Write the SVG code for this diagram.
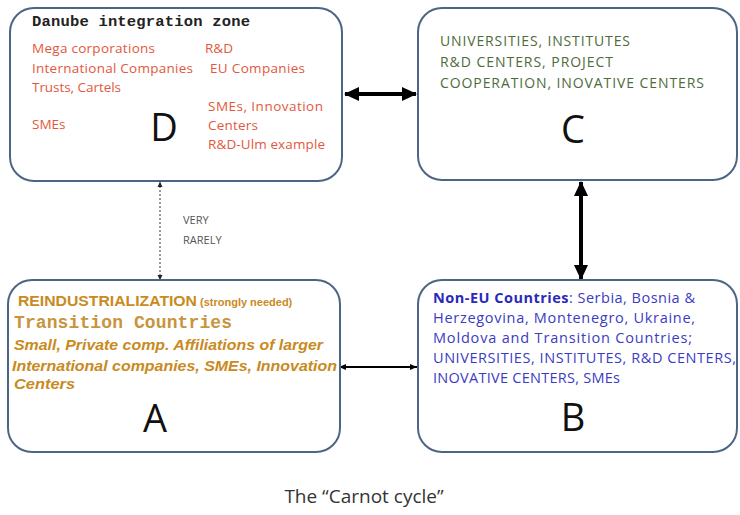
<svg xmlns="http://www.w3.org/2000/svg" width="740" height="515" viewBox="0 0 740 515">
<style>
.box{fill:#fff;stroke:#4d6584;stroke-width:2}
.cal{font-family:"Open Sans","Liberation Sans",sans-serif}
.big{font-family:"Open Sans","Liberation Sans",sans-serif;font-size:38px;fill:#111;text-anchor:middle}
.red{font-size:13.5px;fill:#e2583c}
.grn{font-size:14px;fill:#4f6b3a}
.blu{font-size:14.5px;fill:#3b3bc4}
.gold{fill:#c98a1e;font-family:"Liberation Sans",Arial,sans-serif;font-weight:bold}
.mono{font-family:"Liberation Mono","Courier New",monospace;font-weight:bold}
.thick{stroke:#000;stroke-width:4;fill:none}
.thin{stroke:#000;stroke-width:2;fill:none}
.dot{stroke:#333;stroke-width:1;stroke-dasharray:2 2;fill:none}
</style>
<defs>
<marker id="hb" markerUnits="userSpaceOnUse" markerWidth="16" markerHeight="16" refX="14" refY="8" orient="auto-start-reverse" viewBox="0 0 16 16"><path d="M0,1 L15,8 L0,15 Z" fill="#000"/></marker>
<marker id="hs" markerUnits="userSpaceOnUse" markerWidth="8" markerHeight="8" refX="7" refY="4" orient="auto-start-reverse" viewBox="0 0 8 8"><path d="M0,1 L7,4 L0,7 Z" fill="#000"/></marker>
<marker id="ht" markerUnits="userSpaceOnUse" markerWidth="6" markerHeight="6" refX="5" refY="3" orient="auto-start-reverse" viewBox="0 0 6 6"><path d="M0,0.5 L5,3 L0,5.5 Z" fill="#222"/></marker>
</defs>
<g id="connectors">
<line class="thick" x1="345" y1="94" x2="416" y2="94" marker-start="url(#hb)" marker-end="url(#hb)"/>
<line class="thick" x1="581" y1="182" x2="581" y2="279" marker-start="url(#hb)" marker-end="url(#hb)"/>
<line class="thin" x1="339" y1="367" x2="417" y2="367" marker-start="url(#hs)" marker-end="url(#hs)"/>
<line class="dot" x1="160" y1="182" x2="160" y2="280" marker-start="url(#ht)" marker-end="url(#ht)"/>
<text class="cal" x="183" y="224" font-size="11" fill="#555">VERY</text>
<text class="cal" x="183" y="244" font-size="11" fill="#555">RARELY</text>
</g>
<g id="node-D">
<rect class="box" x="10" y="8" width="332" height="173" rx="24"/>
<text class="mono" x="32" y="26" font-size="15.5" fill="#222" textLength="218">Danube integration zone</text>
<g class="cal red">
<text x="32" y="53" textLength="123">Mega corporations</text>
<text x="32" y="73" textLength="161">International Companies</text>
<text x="32" y="92" textLength="89">Trusts, Cartels</text>
<text x="32" y="129">SMEs</text>
<text x="205" y="53">R&amp;D</text>
<text x="210" y="73" textLength="95">EU Companies</text>
<text x="208" y="111" textLength="115">SMEs, Innovation</text>
<text x="208" y="130" textLength="50">Centers</text>
<text x="208" y="149" textLength="117">R&amp;D-Ulm example</text>
</g>
<text class="big" x="164" y="141">D</text>
</g>
<g id="node-C">
<rect class="box" x="418" y="8" width="319" height="172" rx="24"/>
<g class="cal grn">
<text x="440" y="46" textLength="190">UNIVERSITIES, INSTITUTES</text>
<text x="440" y="67" textLength="173">R&amp;D CENTERS, PROJECT</text>
<text x="440" y="88" textLength="264">COOPERATION, INOVATIVE CENTERS</text>
</g>
<text class="big" x="573" y="143">C</text>
</g>
<g id="node-A">
<rect class="box" x="8" y="280" width="332" height="172" rx="24"/>
<text class="gold" x="18" y="306" font-size="14.5"><tspan textLength="179" lengthAdjust="spacingAndGlyphs">REINDUSTRIALIZATION</tspan><tspan font-size="11" dx="3">(strongly needed)</tspan></text>
<text class="mono" x="14" y="328" font-size="18" fill="#c8943c" font-weight="normal" textLength="218">Transition Countries</text>
<g class="gold" font-style="italic" font-size="15.5">
<text x="14" y="350" textLength="309" lengthAdjust="spacingAndGlyphs">Small, Private comp. Affiliations of larger</text>
<text x="12" y="371" textLength="325" lengthAdjust="spacingAndGlyphs">International companies, SMEs, Innovation</text>
<text x="14" y="389" textLength="61" lengthAdjust="spacingAndGlyphs">Centers</text>
</g>
<text class="big" x="155" y="432">A</text>
</g>
<g id="node-B">
<rect class="box" x="418" y="280" width="319" height="172" rx="24"/>
<g class="cal blu">
<text x="433" y="303" textLength="262"><tspan font-weight="bold" fill="#2a2ab8">Non-EU Countries</tspan>:  Serbia, Bosnia &amp;</text>
<text x="433" y="323" textLength="262">Herzegovina, Montenegro, Ukraine,</text>
<text x="433" y="343" textLength="259">Moldova and Transition Countries;</text>
<text x="433" y="363" textLength="303">UNIVERSITIES, INSTITUTES, R&amp;D CENTERS,</text>
<text x="433" y="383" textLength="187">INOVATIVE CENTERS, SMEs</text>
</g>
<text class="big" x="573" y="431">B</text>
</g>
<text class="cal" x="364" y="503" font-size="19" fill="#333" text-anchor="middle">The “Carnot cycle”</text>
</svg>
